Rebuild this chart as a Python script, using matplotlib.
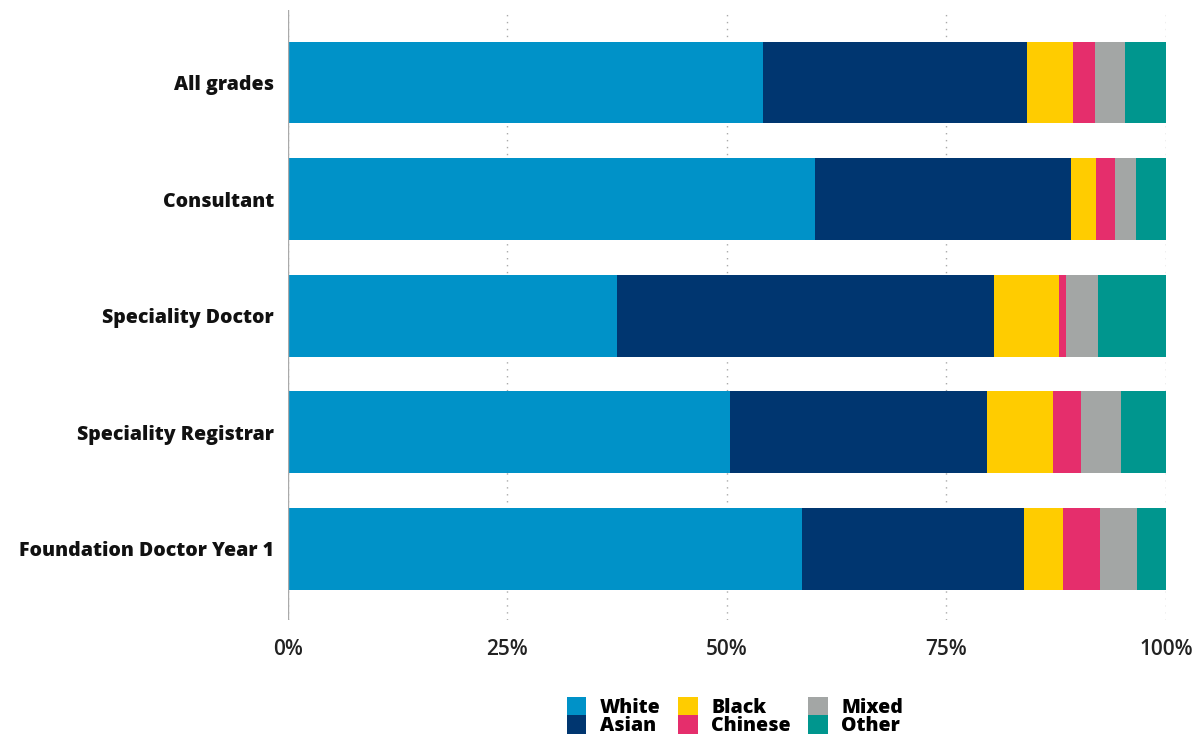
import matplotlib
matplotlib.use("Agg")
import matplotlib.pyplot as plt
from matplotlib.patches import Patch
from matplotlib.ticker import FuncFormatter

categories = ["All grades", "Consultant", "Speciality Doctor", "Speciality Registrar", "Foundation Doctor Year 1"]
groups = ["White", "Asian", "Black", "Chinese", "Mixed", "Other"]
white = [54.1, 60.0, 37.5, 50.3, 58.5]
asian = [30.1, 29.2, 42.9, 29.3, 25.3]
black = [5.2, 2.8, 7.4, 7.5, 4.5]
chinese = [2.5, 2.2, 0.8, 3.2, 4.2]
mixed = [3.5, 2.4, 3.7, 4.6, 4.2]
other = [4.6, 3.4, 7.7, 5.1, 3.3]
colors = ["#0092C8", "#003670", "#FFCC00", "#E52E6C", "#A3A6A5", "#00968E"]

series = [white, asian, black, chinese, mixed, other]

plt.rcParams['font.family'] = ['Open Sans', 'DejaVu Sans']

fig = plt.figure(figsize=(12.03, 7.38), dpi=100)
ax = fig.add_axes([0.2394, 0.160, 0.7297, 0.826])

ypos = list(range(len(categories)))
left = [0.0] * len(categories)
for vals, col, name in zip(series, colors, groups):
    ax.barh(ypos, vals, left=left, height=0.7, color=col, label=name, zorder=3)
    left = [l + v for l, v in zip(left, vals)]

ax.set_ylim(4.61, -0.62)
ax.set_xlim(0, 100)
ax.set_yticks(ypos)
ax.set_yticklabels(categories, fontsize=14, fontweight=800, color='#111111')
ax.set_xticks([0, 25, 50, 75, 100])
ax.xaxis.set_major_formatter(FuncFormatter(lambda v, p: f"{int(v)}%"))
ax.tick_params(axis='x', labelsize=15, colors='#222222', length=0, pad=14)
ax.tick_params(axis='y', length=0, pad=10)
for lab in ax.get_xticklabels():
    lab.set_fontweight('semibold')
ax.grid(axis='x', linestyle=(0, (1, 4)), color='#AAAAAA', linewidth=1, zorder=0)
ax.axvline(0, color='#AAAAAA', linewidth=1, zorder=4)
for s in ax.spines.values():
    s.set_visible(False)

handles = [Patch(facecolor=c, label=g) for c, g in zip(colors, groups)]
leg = fig.legend(handles=handles, loc='center', bbox_to_anchor=(0.611, 0.029), ncol=3,
                 frameon=False, handlelength=1.0, handleheight=1.1,
                 handletextpad=0.7, columnspacing=0.9, labelspacing=-0.15,
                 prop={'weight': 800, 'size': 14})

fig.savefig("out.png", dpi=100)
